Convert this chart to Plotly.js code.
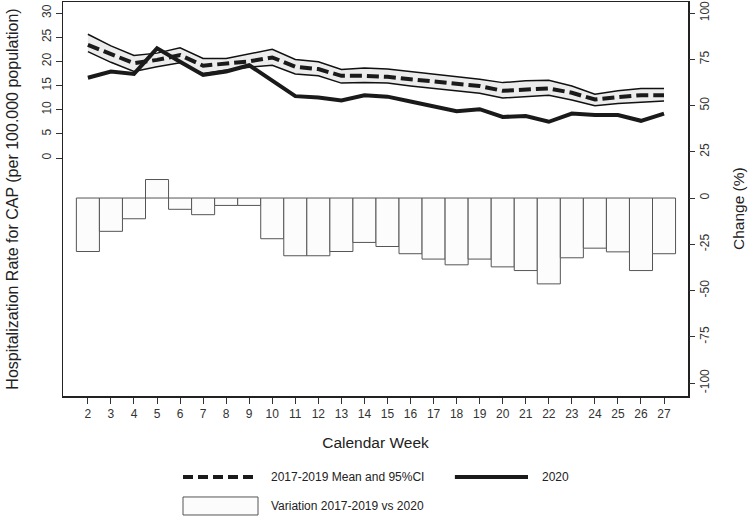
<!DOCTYPE html>
<html>
<head>
<meta charset="utf-8">
<script src="https://cdn.plot.ly/plotly-3.0.1.min.js"></script>
<style>html,body{margin:0;padding:0;background:#fff;}#chart{width:750px;height:524px;}</style>
</head>
<body>
<div id="chart"></div>
<script>
const weeks = [2,3,4,5,6,7,8,9,10,11,12,13,14,15,16,17,18,19,20,21,22,23,24,25,26,27];
const mean1719 = [23.4,21.5,19.6,20.3,21.3,19.1,19.5,20.0,20.8,18.9,18.4,17.0,17.0,16.8,16.3,15.8,15.3,14.9,13.9,14.2,14.4,13.5,12.1,12.6,13.0,13.0];
const upper1719 = [25.6,23.2,21.2,21.7,22.8,20.6,20.6,21.5,22.5,20.4,19.9,18.3,18.6,18.4,17.9,17.3,16.8,16.3,15.6,16.0,16.1,14.9,13.2,13.9,14.4,14.4];
const lower1719 = [22.0,19.8,17.9,18.9,19.7,17.5,18.2,18.8,19.2,17.4,17.0,15.5,15.6,15.5,14.9,14.4,13.9,13.4,12.4,12.7,13.0,12.0,10.8,11.3,11.6,11.8];
const rate2020 = [16.6,17.9,17.4,22.7,19.9,17.2,17.9,19.2,16.0,12.8,12.5,11.9,13.0,12.7,11.7,10.8,9.7,10.1,8.5,8.7,7.5,9.2,8.9,8.9,7.7,9.2];
const variation = [-28.9,-18.0,-11.2,10.0,-6.1,-9.0,-4.0,-4.0,-22.0,-31.2,-31.2,-28.9,-24.0,-26.2,-30.1,-33.0,-36.1,-33.0,-37.2,-39.2,-46.4,-32.3,-27.1,-29.1,-39.2,-30.1];
const leftTicks = [0,5,10,15,20,25,30];
const rightTicks = [-100,-75,-50,-25,0,25,50,75,100];
const legendLabels = ["2017-2019 Mean and 95%CI","2020","Variation 2017-2019 vs 2020"];

const FONT = "Liberation Sans, Arial, sans-serif";

const traces = [
  {x: weeks, y: variation, type: 'bar', yaxis: 'y2', width: 1,
   marker: {color: '#fcfcfc', line: {color: '#555555', width: 1}}, hoverinfo: 'skip'},
  {x: weeks, y: lower1719, type: 'scatter', mode: 'lines', line: {color: '#111', width: 1.5}},
  {x: weeks, y: upper1719, type: 'scatter', mode: 'lines', fill: 'tonexty', fillcolor: '#ececec',
   line: {color: '#111', width: 1.5}},
  {x: weeks, y: mean1719, type: 'scatter', mode: 'lines', line: {color: '#1a1a1a', width: 4, dash: '12px,5px'}},
  {x: weeks, y: rate2020, type: 'scatter', mode: 'lines', line: {color: '#1a1a1a', width: 4}}
];

const layout = {
  width: 750, height: 524,
  margin: {l: 63, r: 62, t: 2, b: 128},
  paper_bgcolor: '#fff', plot_bgcolor: '#fff',
  showlegend: false,
  font: {family: FONT, size: 12, color: '#333'},
  xaxis: {range: [0.92, 28.04], tickvals: weeks, ticktext: weeks.map(String),
    ticks: 'outside', ticklen: 6, tickcolor: '#333', tickfont: {size: 12, color: '#333'},
    showgrid: false, zeroline: false, showline: true, mirror: true, linecolor: '#222', linewidth: 1.5,
    title: {text: 'Calendar Week', font: {size: 15.5, color: '#222'}, standoff: 17}},
  yaxis: {range: [-49.24, 32.28], tickvals: leftTicks, ticktext: leftTicks.map(String),
    ticks: 'outside', ticklen: 6, tickcolor: '#333', tickangle: -90, tickfont: {size: 12, color: '#333'},
    showgrid: false, zeroline: false, showline: true, mirror: true, linecolor: '#222', linewidth: 1.5,
    title: {text: 'Hospitalization Rate for CAP (per 100.000 population)', font: {size: 16, color: '#222'}, standoff: 17}},
  yaxis2: {range: [-107.0, 105.95], overlaying: 'y', side: 'right', tickvals: rightTicks, ticktext: rightTicks.map(String),
    ticks: 'outside', ticklen: 6, tickcolor: '#333', tickangle: -90, tickfont: {size: 12, color: '#333'},
    showgrid: false, zeroline: false, showline: false},
  shapes: [
    {type: 'line', xref: 'paper', yref: 'paper', x0: 0.192, x1: 0.312, y0: -0.2056, y1: -0.2056,
     line: {color: '#1a1a1a', width: 4, dash: '10px,5px'}},
    {type: 'line', xref: 'paper', yref: 'paper', x0: 0.627, x1: 0.744, y0: -0.2056, y1: -0.2056,
     line: {color: '#1a1a1a', width: 4}},
    {type: 'rect', xref: 'paper', yref: 'paper', x0: 0.192, x1: 0.312, y0: -0.302, y1: -0.2563,
     fillcolor: '#fcfcfc', line: {color: '#555', width: 1}}
  ],
  annotations: [
    {xref: 'paper', yref: 'paper', x: 1.08, y: 0.4746, xanchor: 'center', yanchor: 'middle', showarrow: false,
     textangle: -90, text: 'Change (%)', font: {size: 15.5, color: '#222'}},
    {xref: 'paper', yref: 'paper', x: 0.3296, y: -0.2056, xanchor: 'left', yanchor: 'middle', showarrow: false,
     text: legendLabels[0], font: {size: 12, color: '#222'}},
    {xref: 'paper', yref: 'paper', x: 0.7632, y: -0.2056, xanchor: 'left', yanchor: 'middle', showarrow: false,
     text: legendLabels[1], font: {size: 12, color: '#222'}},
    {xref: 'paper', yref: 'paper', x: 0.3296, y: -0.279, xanchor: 'left', yanchor: 'middle', showarrow: false,
     text: legendLabels[2], font: {size: 12, color: '#222'}}
  ]
};

Plotly.newPlot('chart', traces, layout, {staticPlot: true, displayModeBar: false});
</script>
</body>
</html>
